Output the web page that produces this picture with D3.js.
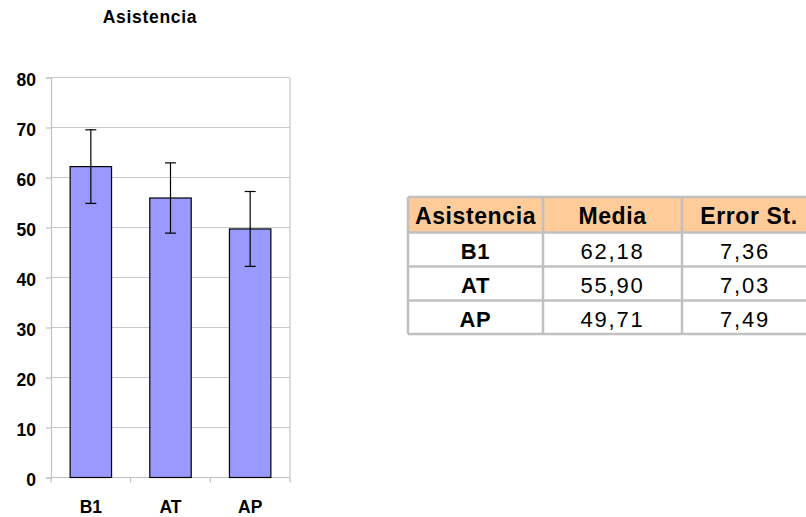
<!DOCTYPE html>
<html>
<head>
<meta charset="utf-8">
<script src="https://cdn.jsdelivr.net/npm/d3@7"></script>
<style>
  html, body { margin: 0; padding: 0; background: #fff; }
  svg { display: block; font-family: "Liberation Sans", Arial, sans-serif; }
</style>
</head>
<body>
<svg id="chart" width="806" height="517"></svg>
<script>
// Attendance by group: mean and standard error
const categories = ["B1", "AT", "AP"];
const means = [62.18, 55.90, 49.71];
const stdErrors = [7.36, 7.03, 7.49];
const yTicks = [0, 10, 20, 30, 40, 50, 60, 70, 80];
const tableHeaders = ["Asistencia", "Media", "Error St."];
const chartTitle = "Asistencia";

const fmt = v => d3.format(".2f")(v).replace(".", ",");

const svg = d3.select("#chart");

// ---- bar chart ----
const plot = { left: 51, right: 290, top: 77.5, bottom: 477.5 };

const x = d3.scaleBand()
  .domain(categories)
  .range([plot.left, plot.right])
  .paddingInner(0.48)
  .paddingOuter(0.24);

const y = d3.scaleLinear()
  .domain([0, 80])
  .range([plot.bottom, plot.top]);

// horizontal gridlines
svg.append("g")
  .selectAll("line")
  .data(yTicks.filter(d => d > 0))
  .join("line")
  .attr("x1", plot.left).attr("x2", plot.right)
  .attr("y1", d => y(d)).attr("y2", d => y(d))
  .attr("stroke", "#c8c8c8").attr("stroke-width", 1.2);

// right border of the plot area
svg.append("line")
  .attr("x1", plot.right).attr("x2", plot.right)
  .attr("y1", plot.top).attr("y2", plot.bottom)
  .attr("stroke", "#c8c8c8").attr("stroke-width", 1.2);

// y axis
const yAxis = svg.append("g")
  .attr("transform", `translate(${plot.left},0)`)
  .call(d3.axisLeft(y).tickValues(yTicks).tickSize(5).tickPadding(10));
yAxis.select(".domain").attr("stroke", "#c0c0c0").attr("stroke-width", 1.2);
yAxis.selectAll(".tick line").attr("stroke", "#c0c0c0").attr("stroke-width", 1.2);
yAxis.selectAll(".tick text")
  .attr("fill", "#000")
  .attr("dy", "0.47em")
  .style("font-size", "17.5px")
  .style("font-weight", "bold");

// x axis with ticks between categories
const boundaries = [plot.left, ...categories.slice(1).map(c => x(c) - x.step() * x.paddingInner() / 2), plot.right];
svg.append("line")
  .attr("x1", plot.left).attr("x2", plot.right)
  .attr("y1", plot.bottom).attr("y2", plot.bottom)
  .attr("stroke", "#c0c0c0").attr("stroke-width", 1.2);
svg.append("g")
  .selectAll("line")
  .data(boundaries)
  .join("line")
  .attr("x1", d => d).attr("x2", d => d)
  .attr("y1", plot.bottom).attr("y2", plot.bottom + 5)
  .attr("stroke", "#c0c0c0").attr("stroke-width", 1.2);
svg.append("g")
  .selectAll("text")
  .data(categories)
  .join("text")
  .attr("x", d => x(d) + x.bandwidth() / 2)
  .attr("y", 513)
  .attr("text-anchor", "middle")
  .style("font-size", "17.5px")
  .style("font-weight", "bold")
  .text(d => d);

// bars
svg.append("g")
  .selectAll("rect")
  .data(categories)
  .join("rect")
  .attr("x", d => x(d))
  .attr("y", (d, i) => y(means[i]))
  .attr("width", x.bandwidth())
  .attr("height", (d, i) => y(0) - y(means[i]))
  .attr("fill", "#9999ff")
  .attr("stroke", "#000")
  .attr("stroke-width", 1.2);

// error bars (mean ± standard error)
const err = svg.append("g").attr("stroke", "#000").attr("stroke-width", 1.2);
categories.forEach((c, i) => {
  const cx = x(c) + x.bandwidth() / 2;
  const lo = y(means[i] - stdErrors[i]);
  const hi = y(means[i] + stdErrors[i]);
  err.append("line").attr("x1", cx).attr("x2", cx).attr("y1", lo).attr("y2", hi);
  err.append("line").attr("x1", cx - 5.5).attr("x2", cx + 5.5).attr("y1", hi).attr("y2", hi);
  err.append("line").attr("x1", cx - 5.5).attr("x2", cx + 5.5).attr("y1", lo).attr("y2", lo);
});

// title
svg.append("text")
  .attr("x", 150).attr("y", 22.5)
  .attr("text-anchor", "middle")
  .style("font-size", "17.5px")
  .style("font-weight", "bold")
  .style("letter-spacing", "0.7px")
  .text(chartTitle);

// ---- summary table ----
const colEdges = [408, 543, 682, 818];
const rowEdges = [197, 232.5, 266.5, 300.5, 334];
const table = svg.append("g");

// header fill
table.append("rect")
  .attr("x", colEdges[0]).attr("y", rowEdges[0])
  .attr("width", colEdges[3] - colEdges[0]).attr("height", rowEdges[1] - rowEdges[0])
  .attr("fill", "#ffcc99");

// grid lines
rowEdges.forEach(ry => {
  table.append("line")
    .attr("x1", colEdges[0]).attr("x2", colEdges[3])
    .attr("y1", ry).attr("y2", ry)
    .attr("stroke", "#c0c0c0").attr("stroke-width", 2.5);
});
colEdges.forEach(cx => {
  table.append("line")
    .attr("x1", cx).attr("x2", cx)
    .attr("y1", rowEdges[0]).attr("y2", rowEdges[4])
    .attr("stroke", "#c0c0c0").attr("stroke-width", 2.5);
});

const colCenter = i => (colEdges[i] + colEdges[i + 1]) / 2;

// header text
tableHeaders.forEach((h, i) => {
  table.append("text")
    .attr("x", i === 2 ? 749 : colCenter(i))
    .attr("y", 224)
    .attr("text-anchor", "middle")
    .style("font-size", "23px")
    .style("font-weight", "bold")
    .style("letter-spacing", "0.6px")
    .text(h);
});

// body rows
categories.forEach((c, r) => {
  const base = rowEdges[r + 1] + 26;
  table.append("text")
    .attr("x", colCenter(0)).attr("y", base)
    .attr("text-anchor", "middle")
    .style("font-size", "22px").style("font-weight", "bold")
    .style("letter-spacing", "0.6px")
    .text(c);
  table.append("text")
    .attr("x", colCenter(1)).attr("y", base)
    .attr("text-anchor", "middle")
    .style("font-size", "22px")
    .style("letter-spacing", "1.8px")
    .text(fmt(means[r]));
  table.append("text")
    .attr("x", 745).attr("y", base)
    .attr("text-anchor", "middle")
    .style("font-size", "22px")
    .style("letter-spacing", "1.8px")
    .text(fmt(stdErrors[r]));
});
</script>
</body>
</html>
